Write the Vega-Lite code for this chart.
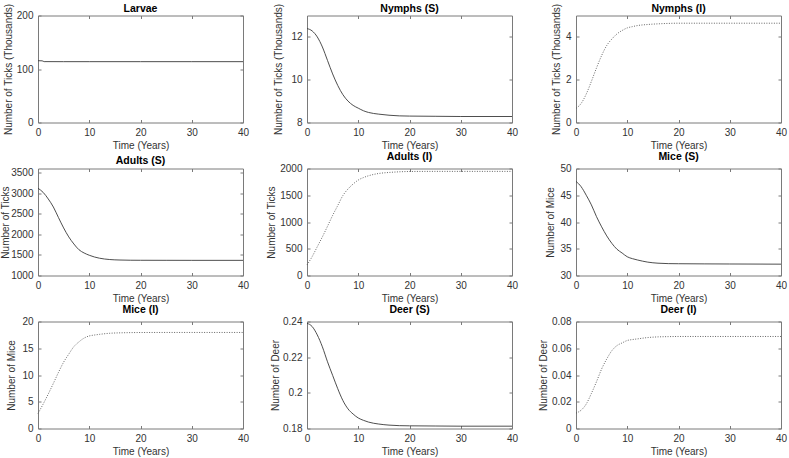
{
  "$schema": "https://vega.github.io/schema/vega-lite/v6.json",
  "padding": {"left": 0, "top": 2.5, "right": 2, "bottom": 2},
  "columns": 3,
  "bounds": "flush",
  "spacing": {"row": 46, "column": 64},
  "config": {
    "font": "Liberation Sans",
    "view": {"stroke": "#7a7a7a", "strokeWidth": 1},
    "axis": {"domain": false, "grid": false, "tickSize": -3, "tickColor": "#7a7a7a", "labelFontSize": 10, "labelColor": "#333333", "labelPadding": 8, "labelFlush": false, "labelOverlap": false, "labelBound": false, "titleFontSize": 10, "titleFontWeight": "normal", "titleColor": "#333333", "titlePadding": 3, "format": "d"},
    "title": {"fontSize": 10.5, "fontWeight": "bold", "offset": 1.5, "color": "#000000", "frame": "group"},
    "line": {"interpolate": "monotone"}
  },
  "datasets": {
    "d": [
      {"p": "L", "t": 0, "v": 115.5}, {"p": "L", "t": 0.8, "v": 115.3}, {"p": "L", "t": 1.2, "v": 113.8}, {"p": "L", "t": 5, "v": 113.7}, {"p": "L", "t": 10, "v": 113.7}, {"p": "L", "t": 20, "v": 113.7}, {"p": "L", "t": 30, "v": 113.7}, {"p": "L", "t": 40, "v": 113.7},

      {"p": "NS", "t": 0, "v": 12.39}, {"p": "NS", "t": 1, "v": 12.28}, {"p": "NS", "t": 2, "v": 12.0}, {"p": "NS", "t": 3, "v": 11.53}, {"p": "NS", "t": 4, "v": 10.9}, {"p": "NS", "t": 5, "v": 10.27}, {"p": "NS", "t": 6, "v": 9.73}, {"p": "NS", "t": 7, "v": 9.3}, {"p": "NS", "t": 8, "v": 9.0}, {"p": "NS", "t": 9, "v": 8.8}, {"p": "NS", "t": 10, "v": 8.67}, {"p": "NS", "t": 11, "v": 8.55}, {"p": "NS", "t": 12, "v": 8.47}, {"p": "NS", "t": 14, "v": 8.39}, {"p": "NS", "t": 16, "v": 8.34}, {"p": "NS", "t": 18, "v": 8.31}, {"p": "NS", "t": 20, "v": 8.3}, {"p": "NS", "t": 25, "v": 8.29}, {"p": "NS", "t": 30, "v": 8.28}, {"p": "NS", "t": 40, "v": 8.28},

      {"p": "NI", "t": 0, "v": 0.66}, {"p": "NI", "t": 1, "v": 0.89}, {"p": "NI", "t": 2, "v": 1.33}, {"p": "NI", "t": 3, "v": 1.92}, {"p": "NI", "t": 4, "v": 2.55}, {"p": "NI", "t": 5, "v": 3.13}, {"p": "NI", "t": 6, "v": 3.6}, {"p": "NI", "t": 7, "v": 3.9}, {"p": "NI", "t": 8, "v": 4.14}, {"p": "NI", "t": 9, "v": 4.3}, {"p": "NI", "t": 10, "v": 4.42}, {"p": "NI", "t": 11, "v": 4.48}, {"p": "NI", "t": 12, "v": 4.53}, {"p": "NI", "t": 14, "v": 4.58}, {"p": "NI", "t": 16, "v": 4.61}, {"p": "NI", "t": 18, "v": 4.63}, {"p": "NI", "t": 20, "v": 4.64}, {"p": "NI", "t": 25, "v": 4.64}, {"p": "NI", "t": 30, "v": 4.64}, {"p": "NI", "t": 40, "v": 4.64},

      {"p": "AS", "t": 0, "v": 3120}, {"p": "AS", "t": 1, "v": 3020}, {"p": "AS", "t": 2, "v": 2860}, {"p": "AS", "t": 3, "v": 2664}, {"p": "AS", "t": 4, "v": 2406}, {"p": "AS", "t": 5, "v": 2156}, {"p": "AS", "t": 6, "v": 1938}, {"p": "AS", "t": 7, "v": 1766}, {"p": "AS", "t": 8, "v": 1625}, {"p": "AS", "t": 9, "v": 1547}, {"p": "AS", "t": 10, "v": 1492}, {"p": "AS", "t": 11, "v": 1450}, {"p": "AS", "t": 12, "v": 1420}, {"p": "AS", "t": 14, "v": 1388}, {"p": "AS", "t": 16, "v": 1376}, {"p": "AS", "t": 18, "v": 1371}, {"p": "AS", "t": 20, "v": 1370}, {"p": "AS", "t": 25, "v": 1369}, {"p": "AS", "t": 30, "v": 1368}, {"p": "AS", "t": 40, "v": 1368},

      {"p": "AI", "t": 0, "v": 197}, {"p": "AI", "t": 1, "v": 352}, {"p": "AI", "t": 2, "v": 537}, {"p": "AI", "t": 3, "v": 722}, {"p": "AI", "t": 4, "v": 920}, {"p": "AI", "t": 5, "v": 1123}, {"p": "AI", "t": 6, "v": 1308}, {"p": "AI", "t": 7, "v": 1494}, {"p": "AI", "t": 8, "v": 1617}, {"p": "AI", "t": 9, "v": 1710}, {"p": "AI", "t": 10, "v": 1784}, {"p": "AI", "t": 11, "v": 1830}, {"p": "AI", "t": 12, "v": 1864}, {"p": "AI", "t": 14, "v": 1907}, {"p": "AI", "t": 16, "v": 1926}, {"p": "AI", "t": 18, "v": 1938}, {"p": "AI", "t": 20, "v": 1944}, {"p": "AI", "t": 25, "v": 1946}, {"p": "AI", "t": 30, "v": 1946}, {"p": "AI", "t": 40, "v": 1946},

      {"p": "MS", "t": 0, "v": 47.6}, {"p": "MS", "t": 1, "v": 46.6}, {"p": "MS", "t": 2, "v": 45.0}, {"p": "MS", "t": 3, "v": 43.2}, {"p": "MS", "t": 4, "v": 41.0}, {"p": "MS", "t": 5, "v": 39.1}, {"p": "MS", "t": 6, "v": 37.4}, {"p": "MS", "t": 7, "v": 36.0}, {"p": "MS", "t": 8, "v": 34.9}, {"p": "MS", "t": 9, "v": 34.2}, {"p": "MS", "t": 10, "v": 33.5}, {"p": "MS", "t": 11, "v": 33.15}, {"p": "MS", "t": 12, "v": 32.9}, {"p": "MS", "t": 14, "v": 32.5}, {"p": "MS", "t": 16, "v": 32.3}, {"p": "MS", "t": 18, "v": 32.22}, {"p": "MS", "t": 20, "v": 32.2}, {"p": "MS", "t": 25, "v": 32.17}, {"p": "MS", "t": 30, "v": 32.15}, {"p": "MS", "t": 40, "v": 32.12},

      {"p": "MI", "t": 0, "v": 2.8}, {"p": "MI", "t": 1, "v": 4.56}, {"p": "MI", "t": 2, "v": 6.44}, {"p": "MI", "t": 3, "v": 8.44}, {"p": "MI", "t": 4, "v": 10.5}, {"p": "MI", "t": 5, "v": 12.4}, {"p": "MI", "t": 6, "v": 13.9}, {"p": "MI", "t": 7, "v": 15.3}, {"p": "MI", "t": 8, "v": 16.2}, {"p": "MI", "t": 9, "v": 16.9}, {"p": "MI", "t": 10, "v": 17.3}, {"p": "MI", "t": 11, "v": 17.47}, {"p": "MI", "t": 12, "v": 17.6}, {"p": "MI", "t": 14, "v": 17.8}, {"p": "MI", "t": 16, "v": 17.88}, {"p": "MI", "t": 18, "v": 17.92}, {"p": "MI", "t": 20, "v": 17.94}, {"p": "MI", "t": 25, "v": 17.95}, {"p": "MI", "t": 30, "v": 17.95}, {"p": "MI", "t": 40, "v": 17.95},

      {"p": "DS", "t": 0, "v": 0.239}, {"p": "DS", "t": 1, "v": 0.2372}, {"p": "DS", "t": 2, "v": 0.2325}, {"p": "DS", "t": 3, "v": 0.2258}, {"p": "DS", "t": 4, "v": 0.2174}, {"p": "DS", "t": 5, "v": 0.2098}, {"p": "DS", "t": 6, "v": 0.2023}, {"p": "DS", "t": 7, "v": 0.1957}, {"p": "DS", "t": 8, "v": 0.191}, {"p": "DS", "t": 9, "v": 0.1881}, {"p": "DS", "t": 10, "v": 0.1859}, {"p": "DS", "t": 11, "v": 0.1846}, {"p": "DS", "t": 12, "v": 0.1836}, {"p": "DS", "t": 14, "v": 0.1825}, {"p": "DS", "t": 16, "v": 0.1819}, {"p": "DS", "t": 18, "v": 0.1816}, {"p": "DS", "t": 20, "v": 0.1815}, {"p": "DS", "t": 25, "v": 0.1814}, {"p": "DS", "t": 30, "v": 0.1813}, {"p": "DS", "t": 40, "v": 0.1813},

      {"p": "DI", "t": 0, "v": 0.0115}, {"p": "DI", "t": 1, "v": 0.0137}, {"p": "DI", "t": 2, "v": 0.0183}, {"p": "DI", "t": 3, "v": 0.0262}, {"p": "DI", "t": 4, "v": 0.035}, {"p": "DI", "t": 5, "v": 0.0445}, {"p": "DI", "t": 6, "v": 0.052}, {"p": "DI", "t": 7, "v": 0.0582}, {"p": "DI", "t": 8, "v": 0.062}, {"p": "DI", "t": 9, "v": 0.064}, {"p": "DI", "t": 10, "v": 0.0658}, {"p": "DI", "t": 11, "v": 0.0665}, {"p": "DI", "t": 12, "v": 0.067}, {"p": "DI", "t": 14, "v": 0.068}, {"p": "DI", "t": 16, "v": 0.0685}, {"p": "DI", "t": 18, "v": 0.0687}, {"p": "DI", "t": 20, "v": 0.0688}, {"p": "DI", "t": 25, "v": 0.0688}, {"p": "DI", "t": 30, "v": 0.0688}, {"p": "DI", "t": 40, "v": 0.0688}
    ]
  },
  "concat": [
    {
      "title": {"text": "Larvae", "offset": -11}, "width": 205, "height": 107,
      "data": {"name": "d"}, "transform": [{"filter": "datum.p == 'L'"}],
      "layer": [
        {"mark": {"type": "line", "color": "#3a3a3a", "strokeWidth": 0.9},
         "encoding": {
           "x": {"field": "t", "type": "quantitative", "scale": {"domain": [0, 40]}, "axis": {"values": [0, 10, 20, 30, 40], "title": "Time (Years)"}},
           "y": {"field": "v", "type": "quantitative", "scale": {"domain": [0, 200]}, "axis": {"values": [0, 100, 200], "title": "Number of Ticks (Thousands)", "titlePadding": 3}}}},
        {"mark": {"type": "line", "opacity": 0},
         "encoding": {
           "x": {"field": "t", "type": "quantitative", "axis": {"orient": "top", "values": [0, 10, 20, 30, 40], "labels": false, "title": null}},
           "y": {"field": "v", "type": "quantitative", "axis": {"orient": "right", "values": [0, 100, 200], "labels": false, "title": null}}}}
      ],
      "resolve": {"axis": {"x": "independent", "y": "independent"}}
    },
    {
      "title": {"text": "Nymphs (S)", "offset": -11}, "width": 205, "height": 107,
      "data": {"name": "d"}, "transform": [{"filter": "datum.p == 'NS'"}],
      "layer": [
        {"mark": {"type": "line", "color": "#3a3a3a", "strokeWidth": 0.9},
         "encoding": {
           "x": {"field": "t", "type": "quantitative", "scale": {"domain": [0, 40]}, "axis": {"values": [0, 10, 20, 30, 40], "title": "Time (Years)"}},
           "y": {"field": "v", "type": "quantitative", "scale": {"domain": [8, 13], "zero": false}, "axis": {"values": [8, 10, 12], "title": "Number of Ticks (Thousands)", "titlePadding": 7}}}},
        {"mark": {"type": "line", "opacity": 0},
         "encoding": {
           "x": {"field": "t", "type": "quantitative", "axis": {"orient": "top", "values": [0, 10, 20, 30, 40], "labels": false, "title": null}},
           "y": {"field": "v", "type": "quantitative", "axis": {"orient": "right", "values": [8, 10, 12], "labels": false, "title": null}}}}
      ],
      "resolve": {"axis": {"x": "independent", "y": "independent"}}
    },
    {
      "title": {"text": "Nymphs (I)", "offset": -11}, "width": 205, "height": 107,
      "data": {"name": "d"}, "transform": [{"filter": "datum.p == 'NI'"}],
      "layer": [
        {"mark": {"type": "line", "color": "#555555", "strokeWidth": 0.9, "strokeDash": [1, 1.5]},
         "encoding": {
           "x": {"field": "t", "type": "quantitative", "scale": {"domain": [0, 40]}, "axis": {"values": [0, 10, 20, 30, 40], "title": "Time (Years)"}},
           "y": {"field": "v", "type": "quantitative", "scale": {"domain": [0, 5]}, "axis": {"values": [0, 2, 4], "title": "Number of Ticks (Thousands)", "titlePadding": 4}}}},
        {"mark": {"type": "line", "opacity": 0},
         "encoding": {
           "x": {"field": "t", "type": "quantitative", "axis": {"orient": "top", "values": [0, 10, 20, 30, 40], "labels": false, "title": null}},
           "y": {"field": "v", "type": "quantitative", "axis": {"orient": "right", "values": [0, 2, 4], "labels": false, "title": null}}}}
      ],
      "resolve": {"axis": {"x": "independent", "y": "independent"}}
    },
    {
      "title": "Adults (S)", "width": 205, "height": 107,
      "data": {"name": "d"}, "transform": [{"filter": "datum.p == 'AS'"}],
      "layer": [
        {"mark": {"type": "line", "color": "#3a3a3a", "strokeWidth": 0.9},
         "encoding": {
           "x": {"field": "t", "type": "quantitative", "scale": {"domain": [0, 40]}, "axis": {"values": [0, 10, 20, 30, 40], "title": "Time (Years)"}},
           "y": {"field": "v", "type": "quantitative", "scale": {"domain": [1000, 3500], "zero": false}, "axis": {"values": [1000, 1500, 2000, 2500, 3000, 3500], "title": "Number of Ticks", "titlePadding": 0}}}},
        {"mark": {"type": "line", "opacity": 0},
         "encoding": {
           "x": {"field": "t", "type": "quantitative", "axis": {"orient": "top", "values": [0, 10, 20, 30, 40], "labels": false, "title": null}},
           "y": {"field": "v", "type": "quantitative", "axis": {"orient": "right", "values": [1000, 1500, 2000, 2500, 3000, 3500], "labels": false, "title": null}}}}
      ],
      "resolve": {"axis": {"x": "independent", "y": "independent"}}
    },
    {
      "title": "Adults (I)", "width": 205, "height": 107,
      "data": {"name": "d"}, "transform": [{"filter": "datum.p == 'AI'"}],
      "layer": [
        {"mark": {"type": "line", "color": "#555555", "strokeWidth": 0.9, "strokeDash": [1, 1.5]},
         "encoding": {
           "x": {"field": "t", "type": "quantitative", "scale": {"domain": [0, 40]}, "axis": {"values": [0, 10, 20, 30, 40], "title": "Time (Years)"}},
           "y": {"field": "v", "type": "quantitative", "scale": {"domain": [0, 2000]}, "axis": {"values": [0, 500, 1000, 1500, 2000], "title": "Number of Ticks", "titlePadding": 3}}}},
        {"mark": {"type": "line", "opacity": 0},
         "encoding": {
           "x": {"field": "t", "type": "quantitative", "axis": {"orient": "top", "values": [0, 10, 20, 30, 40], "labels": false, "title": null}},
           "y": {"field": "v", "type": "quantitative", "axis": {"orient": "right", "values": [0, 500, 1000, 1500, 2000], "labels": false, "title": null}}}}
      ],
      "resolve": {"axis": {"x": "independent", "y": "independent"}}
    },
    {
      "title": "Mice (S)", "width": 205, "height": 107,
      "data": {"name": "d"}, "transform": [{"filter": "datum.p == 'MS'"}],
      "layer": [
        {"mark": {"type": "line", "color": "#3a3a3a", "strokeWidth": 0.9},
         "encoding": {
           "x": {"field": "t", "type": "quantitative", "scale": {"domain": [0, 40]}, "axis": {"values": [0, 10, 20, 30, 40], "title": "Time (Years)"}},
           "y": {"field": "v", "type": "quantitative", "scale": {"domain": [30, 50], "zero": false}, "axis": {"values": [30, 35, 40, 45, 50], "title": "Number of Mice", "titlePadding": 4}}}},
        {"mark": {"type": "line", "opacity": 0},
         "encoding": {
           "x": {"field": "t", "type": "quantitative", "axis": {"orient": "top", "values": [0, 10, 20, 30, 40], "labels": false, "title": null}},
           "y": {"field": "v", "type": "quantitative", "axis": {"orient": "right", "values": [30, 35, 40, 45, 50], "labels": false, "title": null}}}}
      ],
      "resolve": {"axis": {"x": "independent", "y": "independent"}}
    },
    {
      "title": "Mice (I)", "width": 205, "height": 107,
      "data": {"name": "d"}, "transform": [{"filter": "datum.p == 'MI'"}],
      "layer": [
        {"mark": {"type": "line", "color": "#555555", "strokeWidth": 0.9, "strokeDash": [1, 1.5]},
         "encoding": {
           "x": {"field": "t", "type": "quantitative", "scale": {"domain": [0, 40]}, "axis": {"values": [0, 10, 20, 30, 40], "title": "Time (Years)"}},
           "y": {"field": "v", "type": "quantitative", "scale": {"domain": [0, 20]}, "axis": {"values": [0, 5, 10, 15, 20], "title": "Number of Mice", "titlePadding": 5.5}}}},
        {"mark": {"type": "line", "opacity": 0},
         "encoding": {
           "x": {"field": "t", "type": "quantitative", "axis": {"orient": "top", "values": [0, 10, 20, 30, 40], "labels": false, "title": null}},
           "y": {"field": "v", "type": "quantitative", "axis": {"orient": "right", "values": [0, 5, 10, 15, 20], "labels": false, "title": null}}}}
      ],
      "resolve": {"axis": {"x": "independent", "y": "independent"}}
    },
    {
      "title": "Deer (S)", "width": 205, "height": 107,
      "data": {"name": "d"}, "transform": [{"filter": "datum.p == 'DS'"}],
      "layer": [
        {"mark": {"type": "line", "color": "#3a3a3a", "strokeWidth": 0.9},
         "encoding": {
           "x": {"field": "t", "type": "quantitative", "scale": {"domain": [0, 40]}, "axis": {"values": [0, 10, 20, 30, 40], "title": "Time (Years)"}},
           "y": {"field": "v", "type": "quantitative", "scale": {"domain": [0.18, 0.24], "zero": false}, "axis": {"values": [0.18, 0.2, 0.22, 0.24], "format": ".2~f", "title": "Number of Deer", "titlePadding": 2.5}}}},
        {"mark": {"type": "line", "opacity": 0},
         "encoding": {
           "x": {"field": "t", "type": "quantitative", "axis": {"orient": "top", "values": [0, 10, 20, 30, 40], "labels": false, "title": null}},
           "y": {"field": "v", "type": "quantitative", "axis": {"orient": "right", "values": [0.18, 0.2, 0.22, 0.24], "labels": false, "title": null}}}}
      ],
      "resolve": {"axis": {"x": "independent", "y": "independent"}}
    },
    {
      "title": "Deer (I)", "width": 205, "height": 107,
      "data": {"name": "d"}, "transform": [{"filter": "datum.p == 'DI'"}],
      "layer": [
        {"mark": {"type": "line", "color": "#555555", "strokeWidth": 0.9, "strokeDash": [1, 1.5]},
         "encoding": {
           "x": {"field": "t", "type": "quantitative", "scale": {"domain": [0, 40]}, "axis": {"values": [0, 10, 20, 30, 40], "title": "Time (Years)"}},
           "y": {"field": "v", "type": "quantitative", "scale": {"domain": [0, 0.08]}, "axis": {"values": [0, 0.02, 0.04, 0.06, 0.08], "format": ".2~f", "title": "Number of Deer", "titlePadding": 3}}}},
        {"mark": {"type": "line", "opacity": 0},
         "encoding": {
           "x": {"field": "t", "type": "quantitative", "axis": {"orient": "top", "values": [0, 10, 20, 30, 40], "labels": false, "title": null}},
           "y": {"field": "v", "type": "quantitative", "axis": {"orient": "right", "values": [0, 0.02, 0.04, 0.06, 0.08], "labels": false, "title": null}}}}
      ],
      "resolve": {"axis": {"x": "independent", "y": "independent"}}
    }
  ]
}
